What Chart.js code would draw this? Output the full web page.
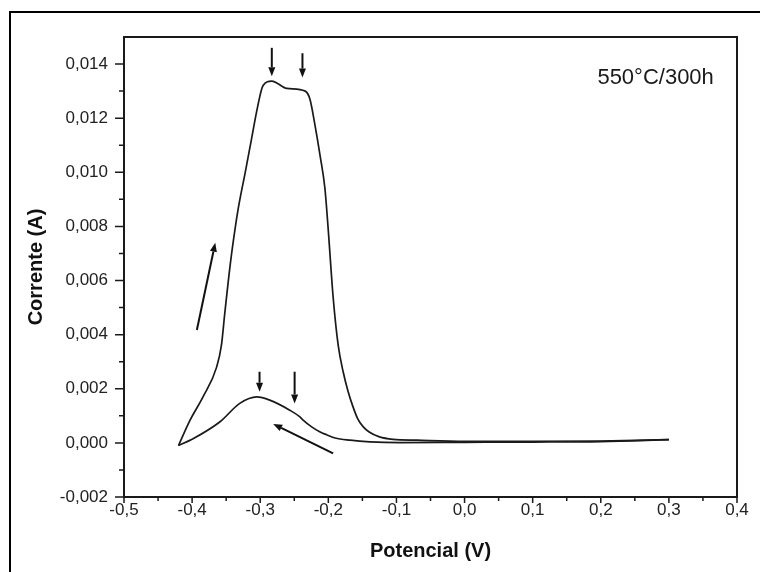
<!DOCTYPE html>
<html>
<head>
<meta charset="utf-8">
<script src="https://cdn.jsdelivr.net/npm/chart.js@4"></script>
<style>
  html, body { margin: 0; padding: 0; background: #fff; }
  #wrap { width: 760px; height: 572px; }
</style>
</head>
<body>
<div id="wrap"><canvas id="voltChart" width="760" height="572"></canvas></div>
<script>
// varredura de ida (anodica), de -0,42 V ate 0,3 V
const potencialIda = [-0.420, -0.403, -0.384, -0.364, -0.357, -0.352, -0.344, -0.337, -0.332, -0.322,
  -0.313, -0.304, -0.296, -0.283, -0.261, -0.234, -0.227, -0.220, -0.212, -0.205, -0.2005, -0.193,
  -0.1855, -0.178, -0.171, -0.164, -0.157, -0.149, -0.140, -0.125, -0.105, -0.070, 0.000, 0.100, 0.200, 0.300];
const correnteIda = [-0.0001, 0.00084, 0.0017, 0.0028, 0.0036, 0.0048, 0.0066, 0.0079, 0.0087, 0.0100,
  0.0112, 0.0124, 0.0132, 0.01337, 0.0131, 0.0130, 0.0127, 0.0118, 0.0106, 0.0094, 0.0080, 0.0054,
  0.0036, 0.0026, 0.0019, 0.00135, 0.0009, 0.0006, 0.0004, 0.00022, 0.00013, 0.0001, 0.00006, 0.00006, 0.00007, 0.00012];

// varredura de volta, de 0,3 V de novo ate -0,42 V
const potencialVolta = [0.300, 0.200, 0.100, 0.000, -0.095, -0.139, -0.168, -0.190, -0.2025, -0.212, -0.225, -0.237,
  -0.2417, -0.256, -0.286, -0.305, -0.330, -0.359, -0.398, -0.420];
const correnteVolta = [0.00012, 0.00005, 0.00003, 0.00002, 0.00001, 0.00004, 0.0001, 0.00018, 0.0003, 0.0004, 0.0006, 0.00084,
  0.00096, 0.0012, 0.00158, 0.0017, 0.00146, 0.00078, 0.00016, -0.0001];

const xTicks = [-0.5, -0.4, -0.3, -0.2, -0.1, 0.0, 0.1, 0.2, 0.3, 0.4];
const xMinorTicks = [-0.45, -0.35, -0.25, -0.15, -0.05, 0.05, 0.15, 0.25, 0.35];
const yTicks = [-0.002, 0.000, 0.002, 0.004, 0.006, 0.008, 0.010, 0.012, 0.014];
const yMinorTicks = [-0.001, 0.001, 0.003, 0.005, 0.007, 0.009, 0.011, 0.013];

const rotulo = '550°C/300h';
const rotuloPos = { x: 0.366, y: 0.01325 };

// setas indicativas (inicio -> ponta), em unidades do grafico
const setas = [
  { x1: -0.283, y1: 0.0146, x2: -0.283, y2: 0.01355 },
  { x1: -0.238, y1: 0.0144, x2: -0.238, y2: 0.0135 },
  { x1: -0.301, y1: 0.00263, x2: -0.301, y2: 0.00189 },
  { x1: -0.2495, y1: 0.00263, x2: -0.2495, y2: 0.00146 },
  { x1: -0.393, y1: 0.00417, x2: -0.366, y2: 0.0074 },
  { x1: -0.193, y1: -0.00039, x2: -0.281, y2: 0.0007 }
];

const fonte = 'Liberation Sans, Arial, Helvetica, sans-serif';
const fmt = (v, d) => v.toFixed(d).replace('.', ',');

function desenhaSeta(ctx, x1, y1, x2, y2) {
  const ang = Math.atan2(y2 - y1, x2 - x1);
  const head = 9, half = 3.5;
  const bx = x2 - head * Math.cos(ang), by = y2 - head * Math.sin(ang);
  ctx.beginPath();
  ctx.moveTo(x1, y1);
  ctx.lineTo(bx, by);
  ctx.stroke();
  ctx.beginPath();
  ctx.moveTo(x2, y2);
  ctx.lineTo(bx + half * Math.sin(ang), by - half * Math.cos(ang));
  ctx.lineTo(bx - half * Math.sin(ang), by + half * Math.cos(ang));
  ctx.closePath();
  ctx.fill();
}

const extras = {
  id: 'extras',
  afterDraw: (chart) => {
    const { ctx, chartArea: a, scales: { x, y } } = chart;
    ctx.save();
    // moldura externa (so esquerda e topo aparecem)
    ctx.strokeStyle = '#000';
    ctx.lineWidth = 2;
    ctx.beginPath();
    ctx.moveTo(10, 572);
    ctx.lineTo(10, 12);
    ctx.lineTo(760, 12);
    ctx.stroke();

    // caixa do grafico
    ctx.strokeStyle = '#1a1a1a';
    ctx.strokeRect(a.left, a.top, a.right - a.left, a.bottom - a.top);

    // marcas dos eixos
    ctx.lineWidth = 1.5;
    ctx.beginPath();
    xTicks.forEach(v => { const p = x.getPixelForValue(v); ctx.moveTo(p, a.bottom); ctx.lineTo(p, a.bottom + 6); });
    xMinorTicks.forEach(v => { const p = x.getPixelForValue(v); ctx.moveTo(p, a.bottom); ctx.lineTo(p, a.bottom + 4); });
    yTicks.forEach(v => { const p = y.getPixelForValue(v); ctx.moveTo(a.left, p); ctx.lineTo(a.left - 9, p); });
    yMinorTicks.forEach(v => { const p = y.getPixelForValue(v); ctx.moveTo(a.left, p); ctx.lineTo(a.left - 5, p); });
    ctx.stroke();

    // setas
    ctx.strokeStyle = '#111';
    ctx.fillStyle = '#111';
    ctx.lineWidth = 2;
    setas.forEach(s => desenhaSeta(ctx,
      x.getPixelForValue(s.x1), y.getPixelForValue(s.y1),
      x.getPixelForValue(s.x2), y.getPixelForValue(s.y2)));

    // rotulo da condicao
    ctx.font = '22px ' + fonte;
    ctx.fillStyle = '#1a1a1a';
    ctx.textAlign = 'right';
    ctx.textBaseline = 'alphabetic';
    ctx.fillText(rotulo, x.getPixelForValue(rotuloPos.x), y.getPixelForValue(rotuloPos.y));
    ctx.restore();
  }
};

const toPts = (xs, ys) => xs.map((v, i) => ({ x: v, y: ys[i] }));

const linha = {
  showLine: true,
  borderColor: '#1a1a1a',
  borderWidth: 1.7,
  pointRadius: 0,
  cubicInterpolationMode: 'monotone',
  fill: false
};

new Chart(document.getElementById('voltChart').getContext('2d'), {
  type: 'scatter',
  data: {
    datasets: [
      Object.assign({ label: 'Ida', data: toPts(potencialIda, correnteIda) }, linha),
      Object.assign({ label: 'Volta', data: toPts(potencialVolta, correnteVolta) }, linha)
    ]
  },
  options: {
    responsive: false,
    animation: false,
    layout: { padding: { left: 0, top: 37, right: 23, bottom: 0 } },
    plugins: { legend: { display: false }, tooltip: { enabled: false } },
    scales: {
      x: {
        type: 'linear',
        min: -0.5,
        max: 0.4,
        afterBuildTicks: s => { s.ticks = xTicks.map(v => ({ value: v })); },
        afterFit: s => { s.height = 75; },
        grid: { display: false, drawTicks: false },
        border: { display: false },
        ticks: {
          callback: v => fmt(v, 1),
          font: { family: fonte, size: 17 },
          color: '#222',
          padding: 3,
          maxRotation: 0,
          autoSkip: false
        },
        title: {
          display: true,
          text: 'Potencial (V)',
          font: { family: fonte, size: 20, weight: 'bold' },
          color: '#111',
          padding: { top: 0, bottom: 9 }
        }
      },
      y: {
        type: 'linear',
        min: -0.002,
        max: 0.015,
        afterBuildTicks: s => { s.ticks = yTicks.map(v => ({ value: v })); },
        afterFit: s => { s.width = 124; },
        grid: { display: false, drawTicks: false },
        border: { display: false },
        ticks: {
          callback: v => fmt(v, 3),
          font: { family: fonte, size: 17 },
          color: '#222',
          padding: 16,
          autoSkip: false
        },
        title: {
          display: true,
          text: 'Corrente (A)',
          font: { family: fonte, size: 20, weight: 'bold' },
          color: '#111',
          padding: { top: 24, bottom: 0 }
        }
      }
    }
  },
  plugins: [extras]
});
</script>
</body>
</html>
